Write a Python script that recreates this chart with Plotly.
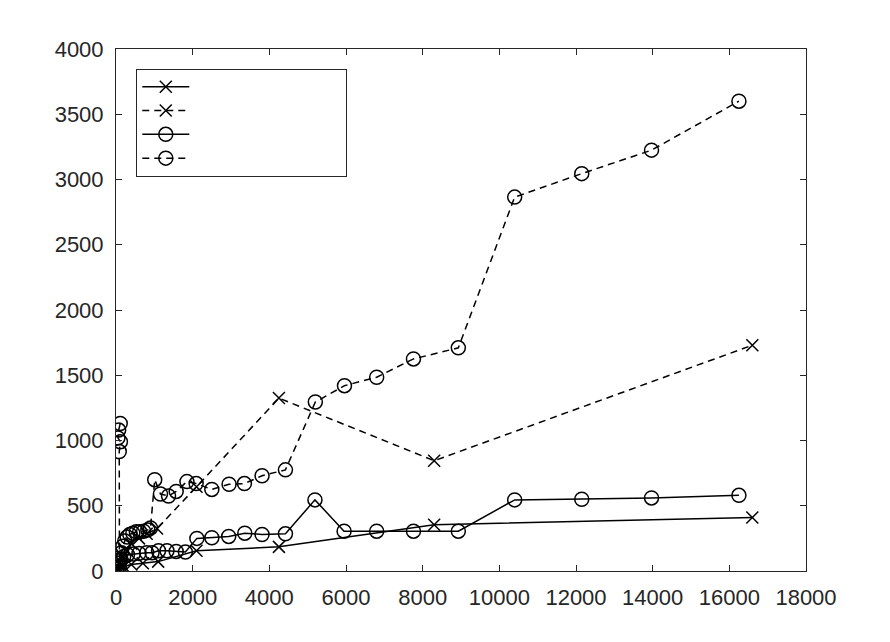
import plotly.graph_objects as go

# Series 1: solid line, x markers
s1_x = [30, 90, 200, 400, 700, 1100, 2100, 4250, 8300, 16600]
s1_y = [10, 20, 35, 50, 60, 72, 155, 185, 355, 410]

# Series 2: dashed line, x markers
s2_x = [30, 80, 150, 250, 400, 600, 800, 1070, 2100, 4250, 8300, 16600]
s2_y = [20, 60, 110, 160, 210, 250, 285, 325, 645, 1325, 845, 1730]

# Series 3: solid line, circle markers
s3_x = [20, 40, 70, 120, 200, 300, 450, 600, 800, 940, 1110, 1330, 1570, 1810,
        2110, 2500, 2940, 3360, 3810, 4420, 5190, 5950, 6800, 7760, 8930,
        10400, 12150, 13970, 16250]
s3_y = [10, 30, 60, 90, 110, 125, 130, 135, 140, 140, 155, 155, 150, 145,
        250, 255, 265, 290, 280, 285, 545, 305, 305, 305, 305,
        545, 550, 560, 580]

# Series 4: dashed line, circle markers
s4_x = [110, 70, 50, 115, 85, 90, 110, 140, 180, 230, 290, 360, 440, 530, 620,
        720, 830, 900, 1010, 1160, 1370, 1570, 1850, 2090, 2500, 2950, 3350,
        3810, 4420, 5200, 5960, 6800, 7760, 8930, 10400, 12150, 13970, 16250]
s4_y = [1130, 1080, 1020, 990, 915, 30, 80, 140, 190, 230, 260, 280, 290, 300, 300,
        305, 315, 330, 700, 590, 575, 610, 685, 670, 625, 665, 670,
        730, 775, 1295, 1420, 1485, 1625, 1710, 2865, 3045, 3225, 3600]

x_ticks = list(range(0, 18001, 2000))
y_ticks = list(range(0, 4001, 500))

legend_name = "\u00a0" * 33
dash = "7px,5px"

fig = go.Figure()
fig.add_trace(go.Scatter(x=s1_x, y=s1_y, mode="lines+markers", name=legend_name,
                         line=dict(color="black", width=1.5),
                         marker=dict(symbol="x-thin-open", size=12, color="black",
                                     line=dict(color="black", width=1.5))))
fig.add_trace(go.Scatter(x=s2_x, y=s2_y, mode="lines+markers", name=legend_name,
                         line=dict(color="black", width=1.5, dash=dash),
                         marker=dict(symbol="x-thin-open", size=12, color="black",
                                     line=dict(color="black", width=1.5))))
fig.add_trace(go.Scatter(x=s3_x, y=s3_y, mode="lines+markers", name=legend_name,
                         line=dict(color="black", width=1.5),
                         marker=dict(symbol="circle-open", size=14, color="black",
                                     line=dict(color="black", width=1.5))))
fig.add_trace(go.Scatter(x=s4_x, y=s4_y, mode="lines+markers", name=legend_name,
                         line=dict(color="black", width=1.5, dash=dash),
                         marker=dict(symbol="circle-open", size=14, color="black",
                                     line=dict(color="black", width=1.5))))

axis_common = dict(showgrid=False, zeroline=False, showline=True, linecolor="#262626",
                   linewidth=1, mirror="ticks", ticks="inside", ticklen=6,
                   tickcolor="#262626", ticklabelstandoff=7,
                   tickfont=dict(family="Liberation Sans", size=22, color="#262626"))

fig.update_layout(
    width=890, height=642,
    margin=dict(l=116, r=84, t=49, b=71),
    paper_bgcolor="white", plot_bgcolor="white",
    xaxis=dict(range=[0, 18000], tickvals=x_ticks, ticktext=[str(v) for v in x_ticks], **axis_common),
    yaxis=dict(range=[0, 4000], tickvals=y_ticks, ticktext=[str(v) for v in y_ticks], **axis_common),
    showlegend=True,
    legend=dict(x=0.0294, y=0.962, xanchor="left", yanchor="top",
                bordercolor="#262626", borderwidth=1, bgcolor="white",
                font=dict(family="Liberation Sans", size=16), itemwidth=47,
                tracegroupgap=0),
)

fig.write_html("out.html")
